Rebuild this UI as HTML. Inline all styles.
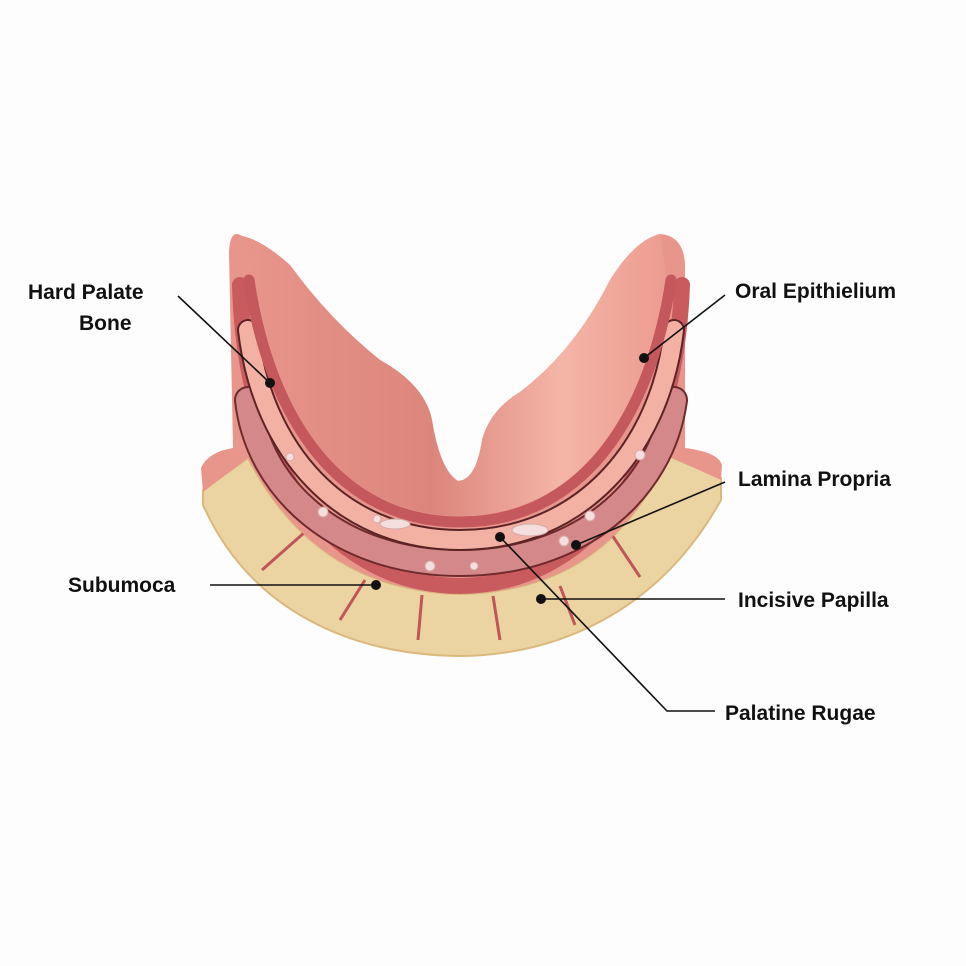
<!DOCTYPE html>
<html><head><style>
body{margin:0;background:#fdfdfd;}
svg{display:block}
text{font-family:"Liberation Sans",sans-serif;font-weight:bold;font-size:21px;fill:#111}
</style></head><body>
<svg width="966" height="966" viewBox="0 0 966 966" xmlns="http://www.w3.org/2000/svg">
<defs>
<linearGradient id="inner" x1="0" y1="0" x2="1" y2="0">
<stop offset="0" stop-color="#e8958b"/><stop offset="0.45" stop-color="#dc857c"/><stop offset="0.75" stop-color="#f4b5a7"/><stop offset="1" stop-color="#ec9c90"/>
</linearGradient>
</defs>
<path d="M203,490 L248,458 C300,560 380,592 460,594 C545,592 620,560 668,456 L721,478 L721,500 C660,610 560,655 460,656 C350,655 250,610 203,505 Z" fill="#ecd4a2" stroke="#d9b97e" stroke-width="2"/>
<g stroke="#c0555a" stroke-width="3" fill="none">
<path d="M305,532 L262,570"/><path d="M365,580 L340,620"/><path d="M422,595 L418,640"/>
<path d="M493,596 L500,640"/><path d="M560,586 L575,625"/><path d="M612,535 L640,577"/>
</g>
<path d="M203,492 L201,468 Q208,452 233,448 L229,252 Q230,228 242,236 Q262,240 290,265 Q330,320 380,360 Q425,385 432,420 Q440,470 458,481 Q476,480 482,440 Q490,410 520,392 Q575,350 610,280 Q635,240 660,234 Q686,236 685,270 L685,448 Q718,452 722,465 L721,480 L668,456 C620,560 545,592 460,594 C380,592 300,560 248,458 Z" fill="#e8968b"/>
<g stroke-linecap="round" fill="none">
<path d="M240,285 C245,480 340,585 460,586 C580,585 675,480 682,285" stroke="#c95b5f" stroke-width="16"/>
<path d="M248,400 C258,490 340,563 460,563 C580,563 662,490 674,400" stroke="#6e2a2c" stroke-width="28"/>
<path d="M248,400 C258,490 340,563 460,563 C580,563 662,490 674,400" stroke="#d5888a" stroke-width="24"/>
<path d="M248,330 C262,450 340,540 460,540 C580,540 660,450 674,330" stroke="#5c2326" stroke-width="22"/>
<path d="M248,330 C262,450 340,540 460,540 C580,540 660,450 674,330" stroke="#f3b1a4" stroke-width="18"/>
<path d="M249,280 C270,420 340,522 460,522 C580,522 650,420 671,280" stroke="#c4585c" stroke-width="11"/>
</g>
<path d="M242,236 Q262,240 290,265 Q330,320 380,360 Q425,385 432,420 Q440,470 458,481 Q476,480 482,440 Q490,410 520,392 Q575,350 610,280 Q635,240 660,234 L666,275 C646,415 578,516 460,516 C342,516 274,415 254,275 Z" fill="url(#inner)"/>
<g fill="#f4dede" stroke="#d7a8a8" stroke-width="1">
<circle cx="290" cy="457" r="4"/><circle cx="323" cy="512" r="5"/><circle cx="377" cy="519" r="4"/>
<circle cx="430" cy="566" r="5"/><circle cx="474" cy="566" r="4"/><circle cx="590" cy="516" r="5"/>
<circle cx="564" cy="541" r="5"/><circle cx="640" cy="455" r="5"/>
<ellipse cx="395" cy="524" rx="15" ry="5"/><ellipse cx="530" cy="530" rx="18" ry="6"/>
</g>
<g stroke="#111" stroke-width="1.6" fill="none">
<path d="M178,296 L270,383"/><path d="M725,295 L644,358"/><path d="M725,482 L576,545"/>
<path d="M210,585 L376,585"/><path d="M541,599 L725,599"/><path d="M500,537 L667,711 L715,711"/>
</g>
<g fill="#111">
<circle cx="270" cy="383" r="5"/><circle cx="644" cy="358" r="5"/><circle cx="576" cy="545" r="5"/>
<circle cx="376" cy="585" r="5"/><circle cx="541" cy="599" r="5"/><circle cx="500" cy="537" r="5"/>
</g>
<text x="28" y="299">Hard Palate</text>
<text x="79" y="330">Bone</text>
<text x="735" y="298">Oral Epithielium</text>
<text x="738" y="486">Lamina Propria</text>
<text x="68" y="592">Subumoca</text>
<text x="738" y="607">Incisive Papilla</text>
<text x="725" y="720">Palatine Rugae</text>
</svg>
</body></html>
